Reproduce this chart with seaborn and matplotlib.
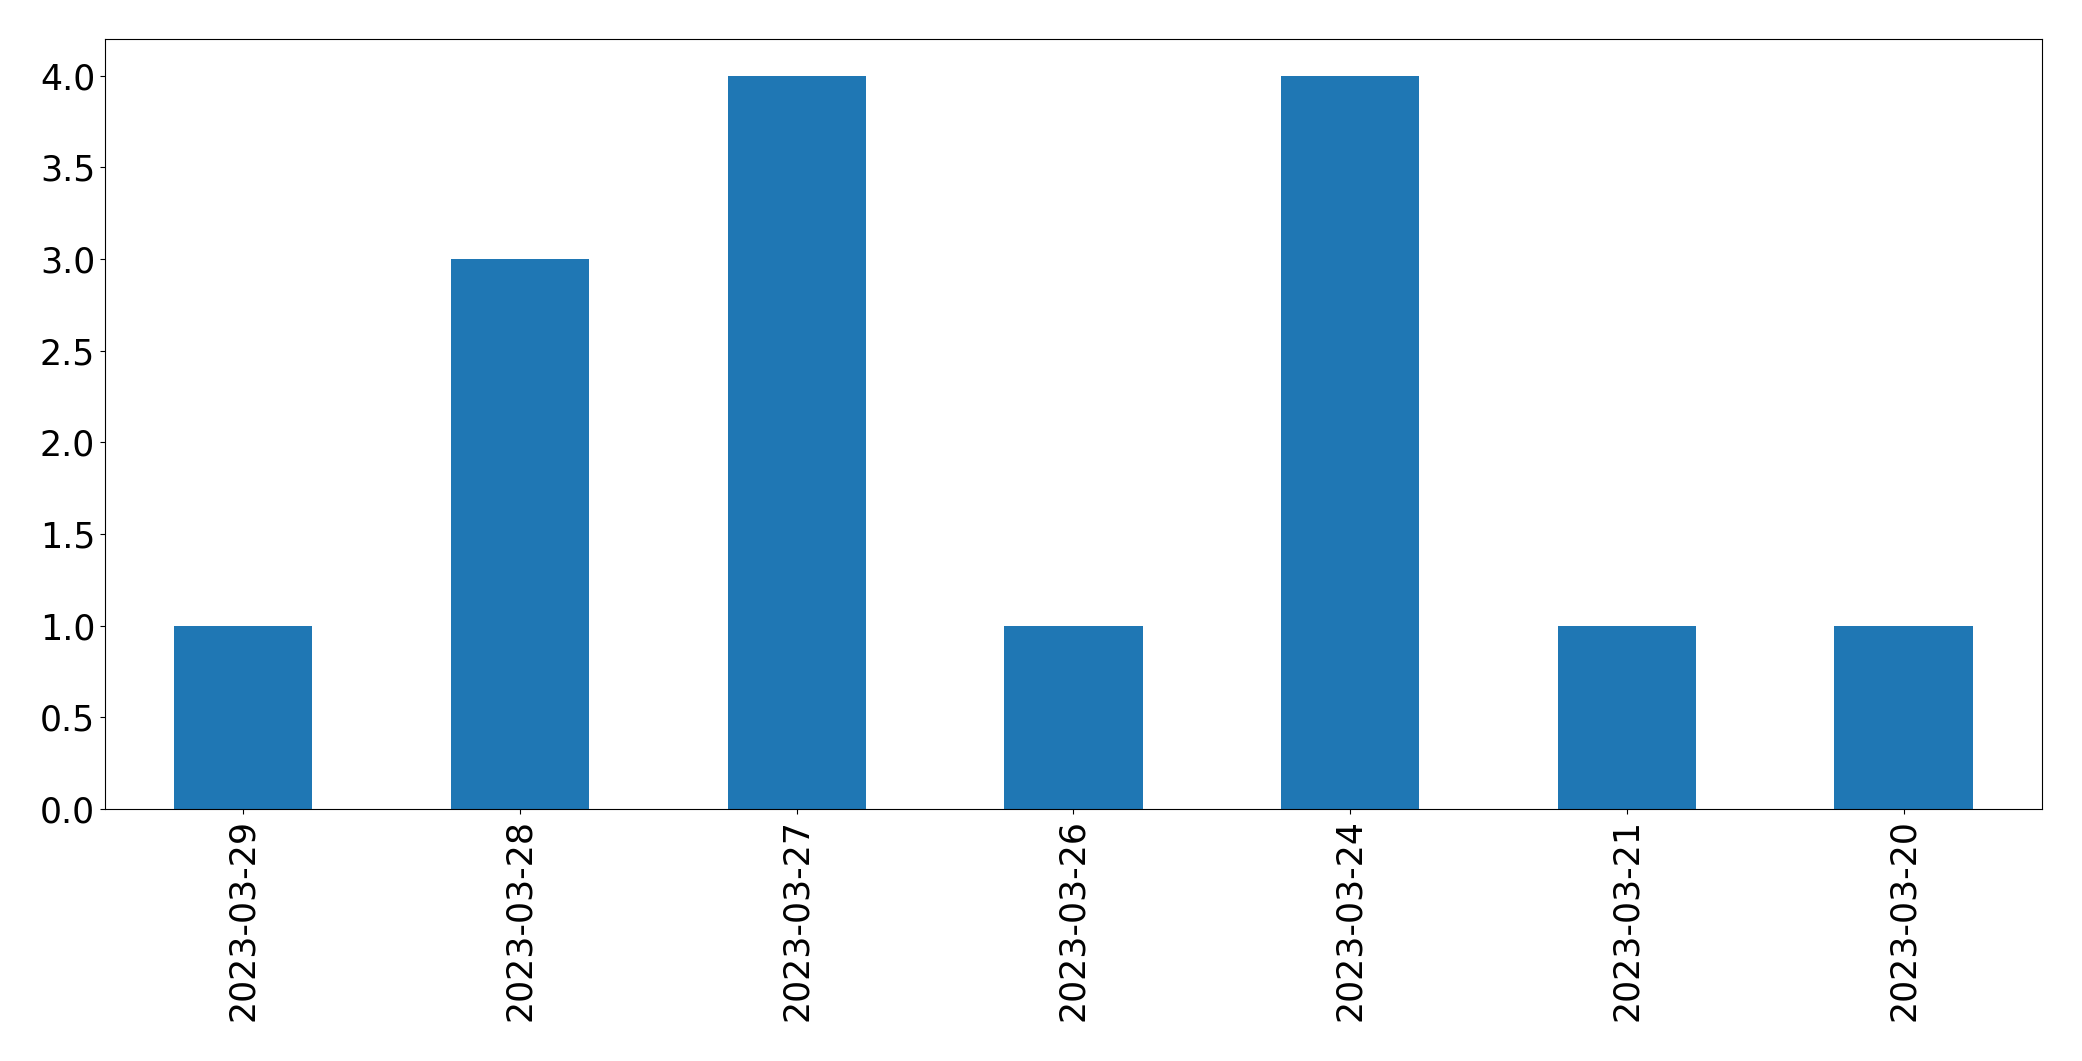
import pandas as pd
import seaborn as sns
import matplotlib.pyplot as plt

dates = ["2023-03-29", "2023-03-28", "2023-03-27", "2023-03-26",
         "2023-03-24", "2023-03-21", "2023-03-20"]
counts = [1, 3, 4, 1, 4, 1, 1]

df = pd.DataFrame({"date": dates, "count": counts})

fig, ax = plt.subplots(figsize=(20.82, 10.61), dpi=100)
sns.barplot(data=df, x="date", y="count", color="#1f77b4", saturation=1,
            width=0.5, ax=ax)
ax.set_xlim(-0.5, len(dates) - 0.5)
ax.set_xlabel("")
ax.set_ylabel("")
ax.tick_params(axis="both", labelsize=25)
plt.setp(ax.get_xticklabels(), rotation=90)
fig.subplots_adjust(left=0.0504, right=0.9808, top=0.9632, bottom=0.2375)
fig.savefig("out.png", dpi=100)
